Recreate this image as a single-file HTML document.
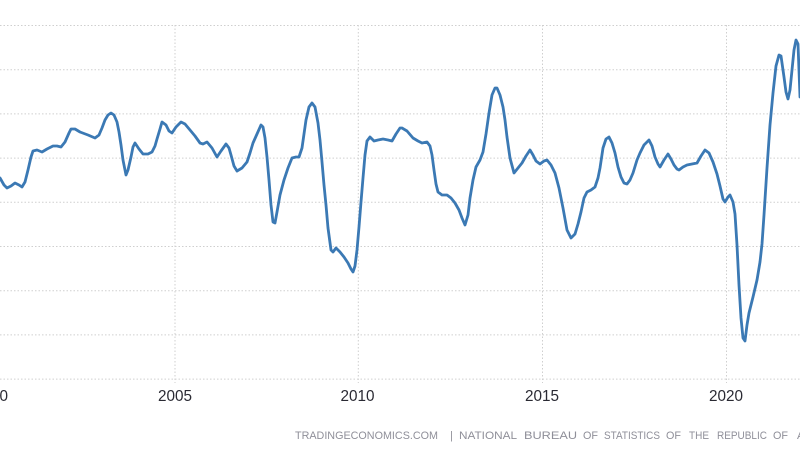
<!DOCTYPE html>
<html>
<head>
<meta charset="utf-8">
<style>
  html,body{margin:0;padding:0;background:#fff;}
  body{width:800px;height:455px;overflow:hidden;}
  svg{display:block;}
</style>
</head>
<body>
<svg width="800" height="455" viewBox="0 0 800 455" xmlns="http://www.w3.org/2000/svg">
  <rect width="800" height="455" fill="#fff"/>
  <g stroke="#cfcfcf" stroke-width="1" stroke-dasharray="1.5,2" fill="none">
    <line x1="0" y1="25.5" x2="800" y2="25.5"/>
    <line x1="0" y1="69.7" x2="800" y2="69.7"/>
    <line x1="0" y1="113.9" x2="800" y2="113.9"/>
    <line x1="0" y1="158.1" x2="800" y2="158.1"/>
    <line x1="0" y1="202.3" x2="800" y2="202.3"/>
    <line x1="0" y1="246.5" x2="800" y2="246.5"/>
    <line x1="0" y1="290.7" x2="800" y2="290.7"/>
    <line x1="0" y1="334.9" x2="800" y2="334.9"/>
    <line x1="0" y1="379.1" x2="800" y2="379.1"/>
    <line x1="175" y1="25" x2="175" y2="383"/>
    <line x1="358.3" y1="25" x2="358.3" y2="383"/>
    <line x1="542.5" y1="25" x2="542.5" y2="383"/>
    <line x1="726.5" y1="25" x2="726.5" y2="383"/>
  </g>
  <polyline fill="none" stroke="#3b79b4" stroke-width="2.8" stroke-linejoin="round" stroke-linecap="round"
    points="0,178 4,185 7,188 11,186 15,183 19,185 22,187 25,182 28,170 31,157 33,151 37,150 42,152 47,149 53,146 57,146 61,147 65,142 69,133 71,129 75,129 80,132 88,135 95,138 99,135 102,128 105,120 108,115 111,113 114,115 117,122 119,132 121,145 123,160 126,175 128,170 131,157 133,147 135,143 139,149 143,154 148,154 152,152 155,146 157,139 160,129 162,122 166,125 169,131 172,133 176,127 181,122 185,124 190,130 195,136 200,143 203,144 207,142 212,148 217,157 221,151 226,144 229,148 231,155 234,166 237,171 242,168 247,162 250,153 253,143 257,134 261,125 263,127 265,138 267,157 269,180 271,205 273,222 275,223 277,212 280,195 284,180 288,168 292,158 296,157 299,157 302,148 304,134 306,120 309,107 312,103 315,107 318,123 320,140 322,162 324,185 326,205 328,228 331,250 333,252 336,248 340,252 344,257 348,263 351,269 353,272 355,266 357,250 359,227 361,202 363,178 365,155 367,141 370,137 374,141 378,140 383,139 388,140 392,141 396,134 400,128 402,128 407,131 413,138 418,141 422,143 427,142 430,146 432,155 434,170 436,184 438,192 442,195 447,195 451,198 455,203 459,210 462,218 465,225 468,215 470,198 473,180 476,167 480,160 483,152 486,134 489,113 492,95 495,88 497,88 500,95 503,107 505,120 507,137 510,158 514,173 518,168 522,163 526,156 530,150 533,155 536,161 540,164 544,161 547,160 551,165 555,173 559,188 563,208 567,230 571,238 575,234 578,224 581,212 584,198 587,192 591,190 595,187 598,178 600,168 603,148 606,139 609,137 612,143 615,153 618,167 621,177 624,183 627,184 630,180 633,173 637,160 640,153 644,145 649,140 652,146 655,157 658,164 660,167 664,160 668,154 671,159 674,165 677,169 679,170 683,167 687,165 692,164 697,163 701,156 705,150 709,153 713,162 717,174 720,186 723,199 725,202 728,197 730,195 733,202 735,214 737,245 739,285 741,318 743,338 745,341 747,325 749,313 753,297 757,280 760,262 762,244 764,215 767,168 770,125 773,93 776,66 779,55 781,56 784,77 786,92 788,99 790,90 792,70 794,50 796,40 798,44 800,97"/>
  <g font-family="Liberation Sans, Arial, sans-serif" font-size="16" fill="#2a2a33" text-anchor="middle">
    <text x="-9" y="401" textLength="34" lengthAdjust="spacingAndGlyphs">2000</text>
    <text x="175" y="401" textLength="34" lengthAdjust="spacingAndGlyphs">2005</text>
    <text x="357.5" y="401" textLength="34" lengthAdjust="spacingAndGlyphs">2010</text>
    <text x="542" y="401" textLength="34" lengthAdjust="spacingAndGlyphs">2015</text>
    <text x="726" y="401" textLength="34" lengthAdjust="spacingAndGlyphs">2020</text>
  </g>
  <g font-family="Liberation Sans, Arial, sans-serif" font-size="11" fill="#8f8f99">
    <text x="295" y="439" textLength="143" lengthAdjust="spacingAndGlyphs">TRADINGECONOMICS.COM</text>
    <text x="450" y="439">|</text>
    <text x="459" y="439" textLength="58" lengthAdjust="spacingAndGlyphs">NATIONAL</text>
    <text x="524" y="439" textLength="53" lengthAdjust="spacingAndGlyphs">BUREAU</text>
    <text x="583" y="439" textLength="15" lengthAdjust="spacingAndGlyphs">OF</text>
    <text x="604" y="439" textLength="56" lengthAdjust="spacingAndGlyphs">STATISTICS</text>
    <text x="666" y="439" textLength="15" lengthAdjust="spacingAndGlyphs">OF</text>
    <text x="689" y="439" textLength="20" lengthAdjust="spacingAndGlyphs">THE</text>
    <text x="717" y="439" textLength="50" lengthAdjust="spacingAndGlyphs">REPUBLIC</text>
    <text x="773" y="439" textLength="15" lengthAdjust="spacingAndGlyphs">OF</text>
    <text x="797" y="439">A</text>
  </g>
</svg>
</body>
</html>
